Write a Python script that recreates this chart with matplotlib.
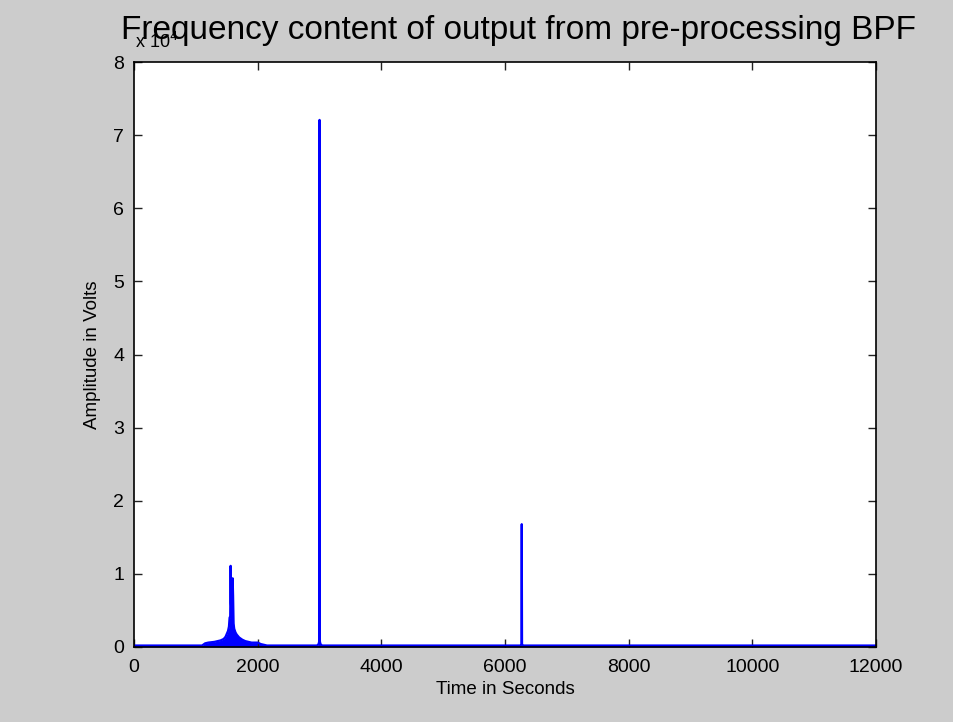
import matplotlib
matplotlib.use('Agg')
import matplotlib.pyplot as plt

# spectrum of the band-pass filter output (amplitude in units of 1e4 V)
freq = [0, 1100, 1150, 1200, 1300, 1400, 1450, 1480, 1500, 1520, 1535, 1545,
        1555, 1562, 1568, 1575, 1585, 1595, 1602, 1610, 1620, 1640, 1660,
        1700, 1750, 1800, 1850, 1900, 2000, 2050, 2100, 2150,
        2960, 2985, 2995, 3000, 3005, 3015, 3040,
        6255, 6265, 6270, 6275, 6285, 12000]
amp = [0.02, 0.02, 0.05, 0.06, 0.07, 0.09, 0.11, 0.14, 0.18, 0.22, 0.28, 0.40,
       0.42, 1.11, 0.60, 0.45, 0.40, 0.94, 0.70, 0.32, 0.25, 0.20, 0.17,
       0.13, 0.10, 0.08, 0.07, 0.06, 0.06, 0.04, 0.03, 0.02,
       0.02, 0.04, 0.08, 7.21, 0.08, 0.04, 0.02,
       0.02, 0.03, 1.68, 0.03, 0.02, 0.02]

xticks = [0, 2000, 4000, 6000, 8000, 10000, 12000]
yticks = [0, 1, 2, 3, 4, 5, 6, 7, 8]

plt.rcParams['font.family'] = ['Liberation Sans', 'DejaVu Sans']

fig = plt.figure(figsize=(9.54, 7.22), dpi=100, facecolor='#cccccc')
ax = fig.add_axes([0.1405, 0.1039, 0.7778, 0.810])
ax.set_facecolor('white')

ax.fill_between(freq, 0, amp, color='#0000ff', linewidth=0)
ax.plot(freq, amp, color='#0000ff', linewidth=1.6)

ax.set_xlim(0, 12000)
ax.set_ylim(0, 8)
ax.set_xticks(xticks)
ax.set_yticks(yticks)
ax.tick_params(direction='in', length=6, width=1, labelsize=14, pad=7,
               top=True, right=True, color='#222222')
ax.tick_params(axis='x', pad=9)
for s in ax.spines.values():
    s.set_linewidth(1.2)

ax.set_xlabel('Time in Seconds', fontsize=13.5, labelpad=3)
ax.set_ylabel('Amplitude in Volts', fontsize=13.5, labelpad=9)

# axis multiplier, partly hidden behind the title
fig.text(0.141, 0.934, 'x 10$^{4}$', fontsize=13, zorder=0)
ax.set_title('Frequency content of output from pre-processing BPF',
             fontsize=24, x=0.5175, pad=17, zorder=5)

fig.savefig('out.png', dpi=100, facecolor=fig.get_facecolor())
